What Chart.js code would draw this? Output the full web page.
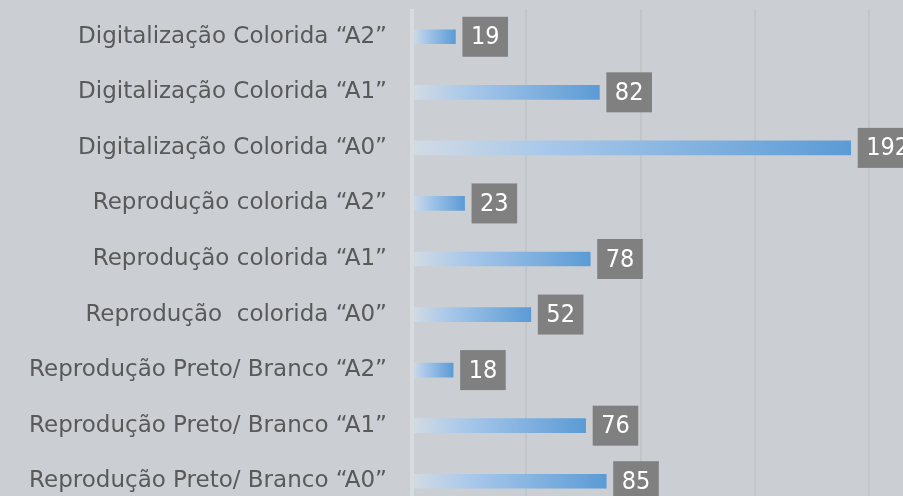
<!DOCTYPE html>
<html>
<head>
<meta charset="utf-8">
<script src="https://cdn.jsdelivr.net/npm/chart.js@4/dist/chart.umd.min.js"></script>
<style>
  html, body { margin: 0; padding: 0; background: #cbcfd3; overflow: hidden; }
  #wrap { position: relative; width: 903px; height: 509px; }
</style>
</head>
<body>
<div id="wrap"><canvas id="servicosChart"></canvas></div>
<script>
// ---- data ----
const categories = [
  'Digitalização Colorida “A2”',
  'Digitalização Colorida “A1”',
  'Digitalização Colorida “A0”',
  'Reprodução colorida “A2”',
  'Reprodução colorida “A1”',
  'Reprodução  colorida “A0”',
  'Reprodução Preto/ Branco “A2”',
  'Reprodução Preto/ Branco “A1”',
  'Reprodução Preto/ Branco “A0”'
];
const quantities = [19, 82, 192, 23, 78, 52, 18, 76, 85];
const xTicks = [0, 50, 100, 150, 200];

const labelFont = '"DejaVu Sans", sans-serif';
const valueFont = '"DejaVu Sans Condensed", "Liberation Sans Narrow", sans-serif';

// gradient per bar, from its start to its end
const barFill = (ctx) => {
  const chart = ctx.chart;
  const { chartArea } = chart;
  if (!chartArea || ctx.type !== 'data') return '#5b9bd5';
  const xs = chart.scales.x;
  const x0 = xs.getPixelForValue(0);
  const x1 = xs.getPixelForValue(ctx.raw);
  const g = chart.ctx.createLinearGradient(x0, 0, x1, 0);
  g.addColorStop(0, '#d2dbe3');
  g.addColorStop(0.3, '#a9c8ea');
  g.addColorStop(1, '#5b9bd5');
  return g;
};

// grey value boxes at the bar ends
const valueBoxes = {
  id: 'valueBoxes',
  afterDatasetsDraw(chart) {
    const ctx = chart.ctx;
    const meta = chart.getDatasetMeta(0);
    ctx.save();
    ctx.font = '25px ' + valueFont;
    meta.data.forEach((bar, i) => {
      const txt = String(quantities[i]);
      const w = ctx.measureText(txt).width + 17;
      const bx = bar.x + 7, by = bar.y - 20;
      ctx.fillStyle = '#808080';
      ctx.fillRect(bx, by, w, 40);
      ctx.fillStyle = '#ffffff';
      ctx.textAlign = 'center';
      ctx.textBaseline = 'middle';
      ctx.fillText(txt, bx + w / 2, bar.y + 1);
    });
    ctx.restore();
  }
};

new Chart(document.getElementById('servicosChart'), {
  type: 'bar',
  data: {
    labels: categories,
    datasets: [{
      data: quantities,
      backgroundColor: barFill,
      borderWidth: 0,
      barThickness: 14,
    }]
  },
  options: {
    indexAxis: 'y',
    responsive: true, maintainAspectRatio: false, animation: false,
    layout: { padding: { top: 9, right: 34, bottom: 0, left: 0 } },
    plugins: { legend: { display: false }, tooltip: { enabled: false } },
    scales: {
      x: {
        min: 0, max: 200,
        afterBuildTicks: axis => { axis.ticks = xTicks.map(v => ({ value: v })); },
        afterFit: axis => { axis.height = 0; axis.paddingLeft = 0; axis.paddingRight = 0; },
        grid: {
          color: c => c.index === 0 ? '#d9dcdf' : '#c2c6ca',
          lineWidth: c => c.index === 0 ? 4 : 2,
          drawTicks: false,
        },
        ticks: { display: false },
        border: { display: false }
      },
      y: {
        afterFit: axis => { axis.width = 412; axis.paddingTop = 0; axis.paddingBottom = 0; },
        grid: { display: false, drawTicks: false },
        border: { display: false },
        ticks: { color: '#595959', font: { family: labelFont, size: 23 }, padding: 25 }
      }
    }
  },
  plugins: [valueBoxes]
});
</script>
</body>
</html>
